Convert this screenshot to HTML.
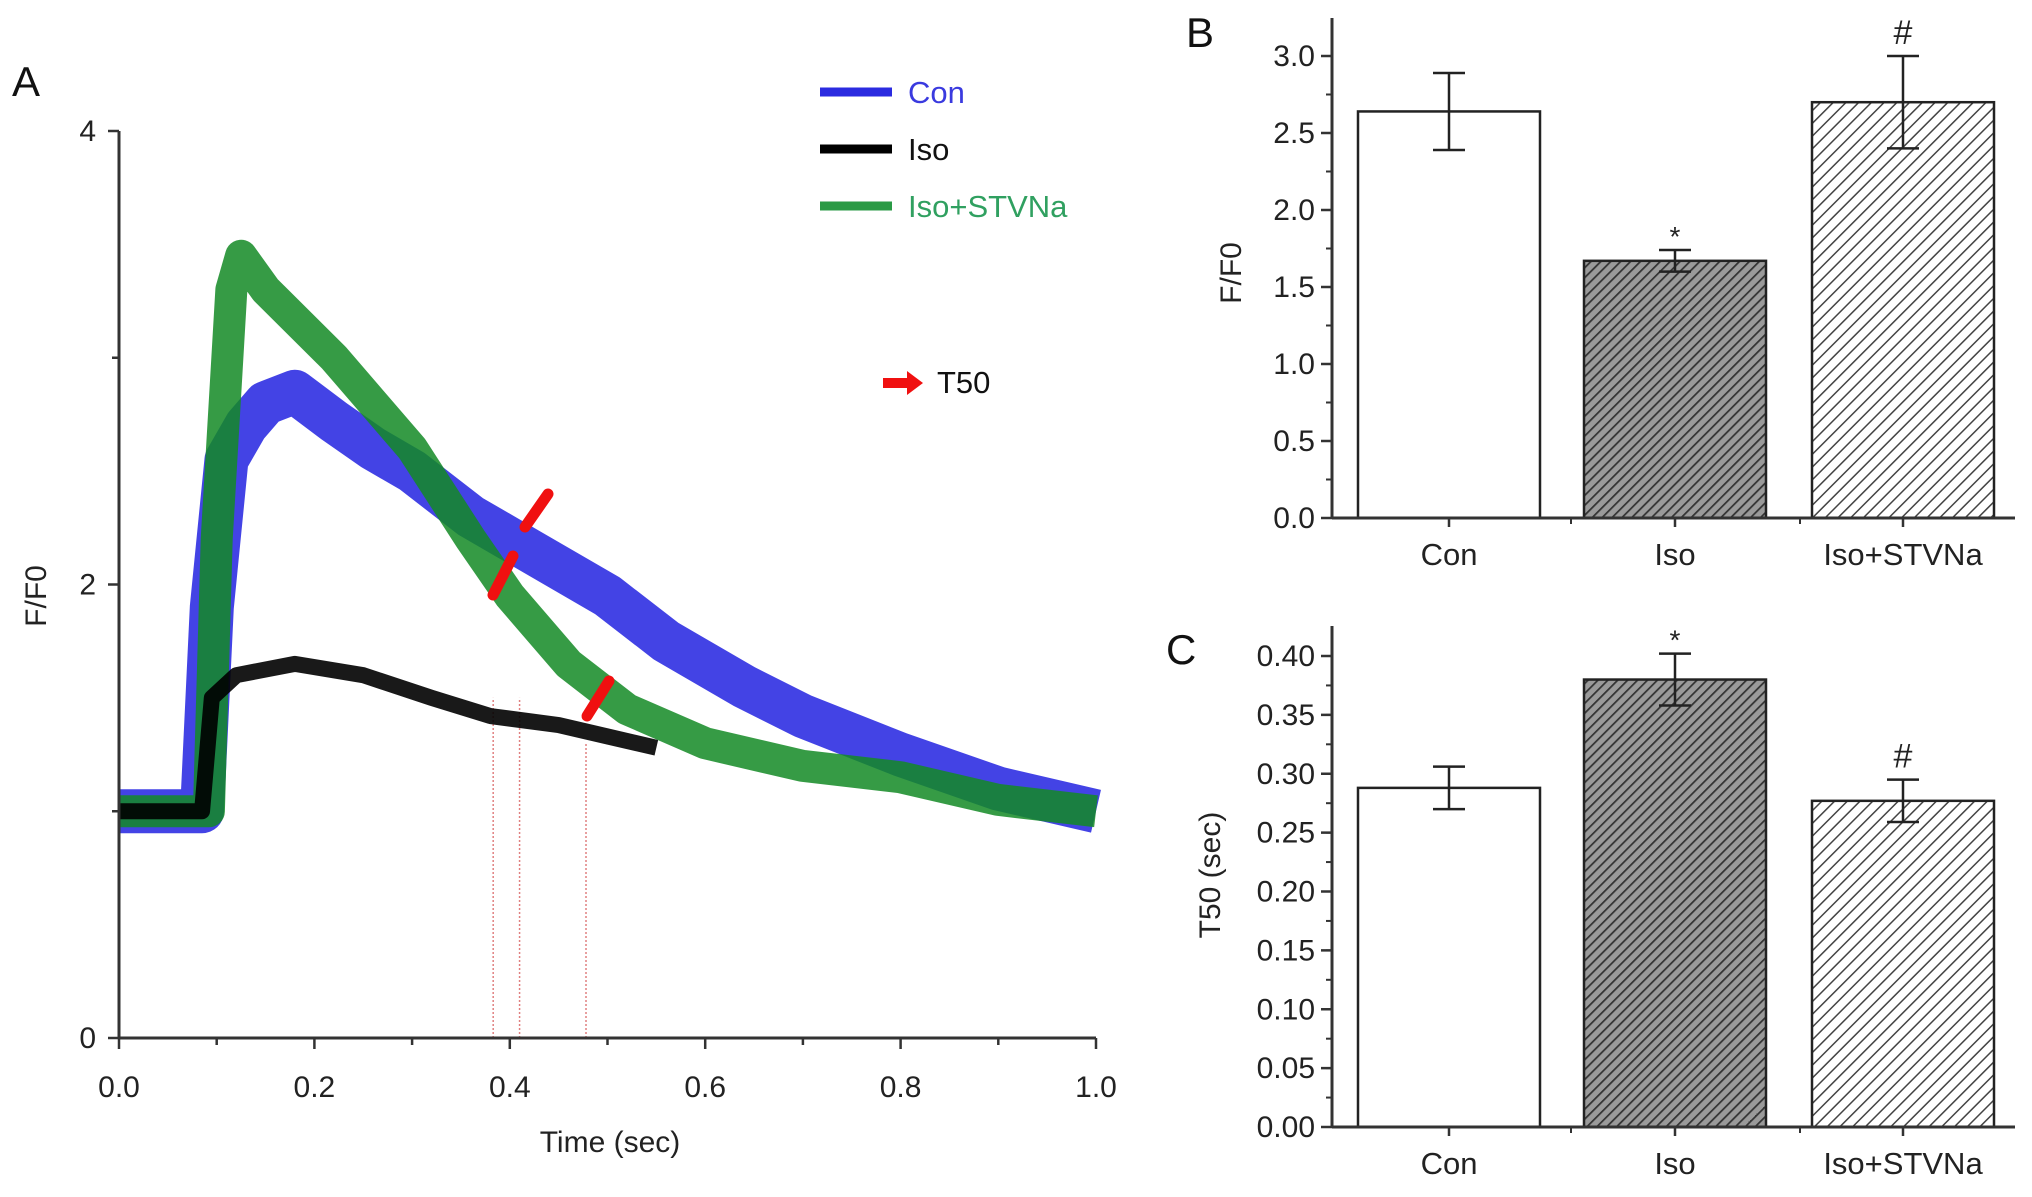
<!DOCTYPE html>
<html><head><meta charset="utf-8"><style>
html,body{margin:0;padding:0;background:#fff;}
svg{display:block;font-family:"Liberation Sans",sans-serif;}
</style></head><body>
<svg id="fig" width="2032" height="1197" viewBox="0 0 2032 1197">
<defs>
<pattern id="hatchDark" width="7" height="7" patternUnits="userSpaceOnUse" patternTransform="rotate(45)">
<rect width="7" height="7" fill="#9a9a9a"/><line x1="0" y1="0" x2="0" y2="7" stroke="#333" stroke-width="3.5"/></pattern>
<pattern id="hatchLight" width="9" height="9" patternUnits="userSpaceOnUse" patternTransform="rotate(45)">
<rect width="9" height="9" fill="#fff"/><line x1="0" y1="0" x2="0" y2="9" stroke="#444" stroke-width="3"/></pattern>
</defs>
<g id="panelA"></g>
<g id="panelB"></g>
<g id="panelC"></g>
</svg>
<script>
// Panel A trace data (F/F0 vs time)
const timeCon = [0,0.085,0.095,0.11,0.13,0.15,0.18,0.22,0.26,0.3,0.36,0.42,0.5,0.56,0.64,0.7,0.8,0.9,1.0];
const valCon  = [1.0,1.0,1.9,2.55,2.7,2.8,2.85,2.72,2.6,2.5,2.3,2.15,1.95,1.75,1.55,1.42,1.25,1.1,1.0];
const timeIso = [0,0.085,0.095,0.12,0.18,0.25,0.32,0.38,0.45,0.5,0.55];
const valIso  = [1.0,1.0,1.5,1.6,1.65,1.6,1.5,1.42,1.38,1.33,1.28];
const timeIsoS = [0,0.092,0.1,0.115,0.125,0.15,0.22,0.3,0.36,0.4,0.46,0.52,0.6,0.7,0.8,0.9,1.0];
const valIsoS  = [1.0,1.0,2.2,3.3,3.45,3.3,3.0,2.6,2.2,1.95,1.65,1.45,1.3,1.2,1.15,1.05,1.0];
const t50Times = [0.383,0.41,0.478];
const t50Tops = [1.5,1.5,1.3];
const xTicksA = [0,0.2,0.4,0.6,0.8,1.0];
const xTickLabelsA = ["0.0","0.2","0.4","0.6","0.8","1.0"];
const yTicksA = [0,2,4];
// Panel B
const categories = ["Con","Iso","Iso+STVNa"];
const peakVals = [2.64,1.67,2.70];
const peakErr = [0.25,0.07,0.30];
const peakMarks = ["","*","#"];
const yTicksB = [0,0.5,1.0,1.5,2.0,2.5,3.0];
// Panel C
const t50Vals = [0.288,0.38,0.277];
const t50Err = [0.018,0.022,0.018];
const t50Marks = ["","*","#"];
const yTicksC = [0,0.05,0.10,0.15,0.20,0.25,0.30,0.35,0.40];

const NS="http://www.w3.org/2000/svg";
function mk(parent,tag,attrs,text){const e=document.createElementNS(NS,tag);for(const k in attrs)e.setAttribute(k,attrs[k]);if(text!==undefined)e.textContent=text;parent.appendChild(e);return e;}

// ---- Panel A ----
const A=document.getElementById('panelA');
const ax0=119,ax1=1096,ay0=1038,ay4=131;
const xA=t=>ax0+(ax1-ax0)*t, yA=v=>ay0+(ay4-ay0)*v/4;
function trace(ts,vs,color,w,op,name){
  const p=mk(A,'polyline',{points:ts.map((t,i)=>xA(t)+','+yA(vs[i])).join(' '),fill:'none',stroke:color,'stroke-width':w,'stroke-opacity':op,'stroke-linejoin':'round'});
  
  
}
t50Times.forEach((t,i)=>{
  const l=mk(A,'line',{x1:xA(t),x2:xA(t),y1:ay0,y2:yA(t50Tops[i]),stroke:'#e08080','stroke-width':1.5,'stroke-dasharray':'2,2'});
  
  
});
trace(timeCon,valCon,'#2222e0',44,0.85,'con-trace');
trace(timeIsoS,valIsoS,'#138a25',32,0.85,'iso-stvna-trace');
trace(timeIso,valIso,'#000',16,0.9,'iso-trace');
// red arrows
[[548,494,525,527],[513,556,493,595],[609,681,587,716]].forEach(a=>{
  const l=mk(A,'line',{x1:a[0],y1:a[1],x2:a[2],y2:a[3],stroke:'#f01010','stroke-width':11,'stroke-linecap':'round'});
  
  
});
mk(A,'line',{x1:ax0,y1:ay4,x2:ax0,y2:ay0,stroke:'#333','stroke-width':3});
mk(A,'line',{x1:ax0,y1:ay0,x2:ax1,y2:ay0,stroke:'#333','stroke-width':3});
for(let i=0;i<=10;i++){const x=xA(i/10);mk(A,'line',{x1:x,x2:x,y1:ay0,y2:ay0+(i%2?7:11),stroke:'#333','stroke-width':2.5});}
xTicksA.forEach((t,i)=>{const e=mk(A,'text',{x:xA(t),y:1097,'text-anchor':'middle','font-size':30,fill:'#222'},xTickLabelsA[i]);});
for(let v=0;v<=4;v++){const y=yA(v);mk(A,'line',{x1:ax0,x2:ax0-(v%2?7:11),y1:y,y2:y,stroke:'#333','stroke-width':2.5});}
yTicksA.forEach(v=>{const e=mk(A,'text',{x:96,y:yA(v)+10,'text-anchor':'end','font-size':30,fill:'#222'},String(v));});
mk(A,'text',{x:610,y:1152,'text-anchor':'middle','font-size':30,fill:'#222',},'Time (sec)');
mk(A,'text',{x:0,y:0,transform:'translate(46,596) rotate(-90)','text-anchor':'middle','font-size':30,fill:'#222',},'F/F0');
mk(A,'text',{x:12,y:96,'font-size':42,fill:'#111',},'A');
const leg=[['Con','#3a3adf','#2b2be0',103],['Iso','#111','#000',160],['Iso+STVNa','#30a060','#2a9a45',217]];
leg.forEach(l=>{
  const g=mk(A,'g',{});
  mk(g,'line',{x1:820,x2:892,y1:l[3]-11,y2:l[3]-11,stroke:l[2],'stroke-width':9});
  mk(g,'text',{x:908,y:l[3],'font-size':31,fill:l[1]},l[0]);
});
const tg=mk(A,'g',{});
mk(tg,'polygon',{points:'883,378 907,378 907,371 923,383 907,395 907,388 883,388',fill:'#f01010'});
mk(tg,'text',{x:937,y:393,'font-size':31,fill:'#111'},'T50');

// ---- bar chart helper ----
function barChart(G,cfg){
  const {left,right,bottom,top,axTop,vmax,vals,errs,marks,ticks,fmt,minor,label,lx,ly,title,tx,ty}=cfg;
  const y=v=>bottom-(bottom-top)*v/vmax;
  const bx=[1358,1584,1812], bw=182;
  const fills=['#fff','url(#hatchDark)','url(#hatchLight)'];
  vals.forEach((v,i)=>{
    const r=mk(G,'rect',{x:bx[i],y:y(v),width:bw,height:bottom-y(v),fill:fills[i],stroke:'#222','stroke-width':2.5});
    
    
    const cx=bx[i]+bw/2, e=errs[i];
    const eb=mk(G,'path',{d:`M${cx},${y(v+e)}V${y(v-e)}M${cx-16},${y(v+e)}H${cx+16}M${cx-16},${y(v-e)}H${cx+16}`,stroke:'#222','stroke-width':2.5,fill:'none'});
    
    
    if(marks[i]){
      const m=mk(G,'text',{x:cx,y:y(v+e)-(marks[i]=='*'?4:12),'text-anchor':'middle','font-size':marks[i]=='*'?28:34,fill:'#222'},marks[i]);
      
      
    }
    const c=mk(G,'text',{x:cx,y:bottom+47,'text-anchor':'middle','font-size':31,fill:'#222'},categories[i]);
    
    
    mk(G,'line',{x1:cx,x2:cx,y1:bottom,y2:bottom+9,stroke:'#333','stroke-width':2.5});
  });
  [1571,1800].forEach(x=>mk(G,'line',{x1:x,x2:x,y1:bottom,y2:bottom+6,stroke:'#333','stroke-width':2}));
  mk(G,'line',{x1:left,y1:axTop,x2:left,y2:bottom,stroke:'#333','stroke-width':3});
  mk(G,'line',{x1:left,y1:bottom,x2:right,y2:bottom,stroke:'#333','stroke-width':3});
  for(let v=0;v<=vmax*1.0001+1e-9;v+=minor){const yy=y(v);mk(G,'line',{x1:left,x2:left-6,y1:yy,y2:yy,stroke:'#333','stroke-width':2});}
  ticks.forEach(v=>{
    mk(G,'line',{x1:left,x2:left-11,y1:y(v),y2:y(v),stroke:'#333','stroke-width':2.5});
    const t=mk(G,'text',{x:left-17,y:y(v)+10,'text-anchor':'end','font-size':30,fill:'#222'},v.toFixed(fmt));
    
    
  });
  mk(G,'text',{x:0,y:0,transform:`translate(${lx},${ly}) rotate(-90)`,'text-anchor':'middle','font-size':30,fill:'#222',},title);
  mk(G,'text',{x:tx,y:ty,'font-size':42,fill:'#111',},label);
}
barChart(document.getElementById('panelB'),{left:1332,right:2015,bottom:518,top:56,axTop:18,vmax:3.0,vals:peakVals,errs:peakErr,marks:peakMarks,ticks:yTicksB,fmt:1,minor:0.25,label:'B',lx:1241,ly:273,title:'F/F0',tx:1186,ty:47});
barChart(document.getElementById('panelC'),{left:1332,right:2015,bottom:1127,top:656,axTop:626,vmax:0.40,vals:t50Vals,errs:t50Err,marks:t50Marks,ticks:yTicksC,fmt:2,minor:0.025,label:'C',lx:1220,ly:875,title:'T50 (sec)',tx:1166,ty:664});
</script>
</body></html>
